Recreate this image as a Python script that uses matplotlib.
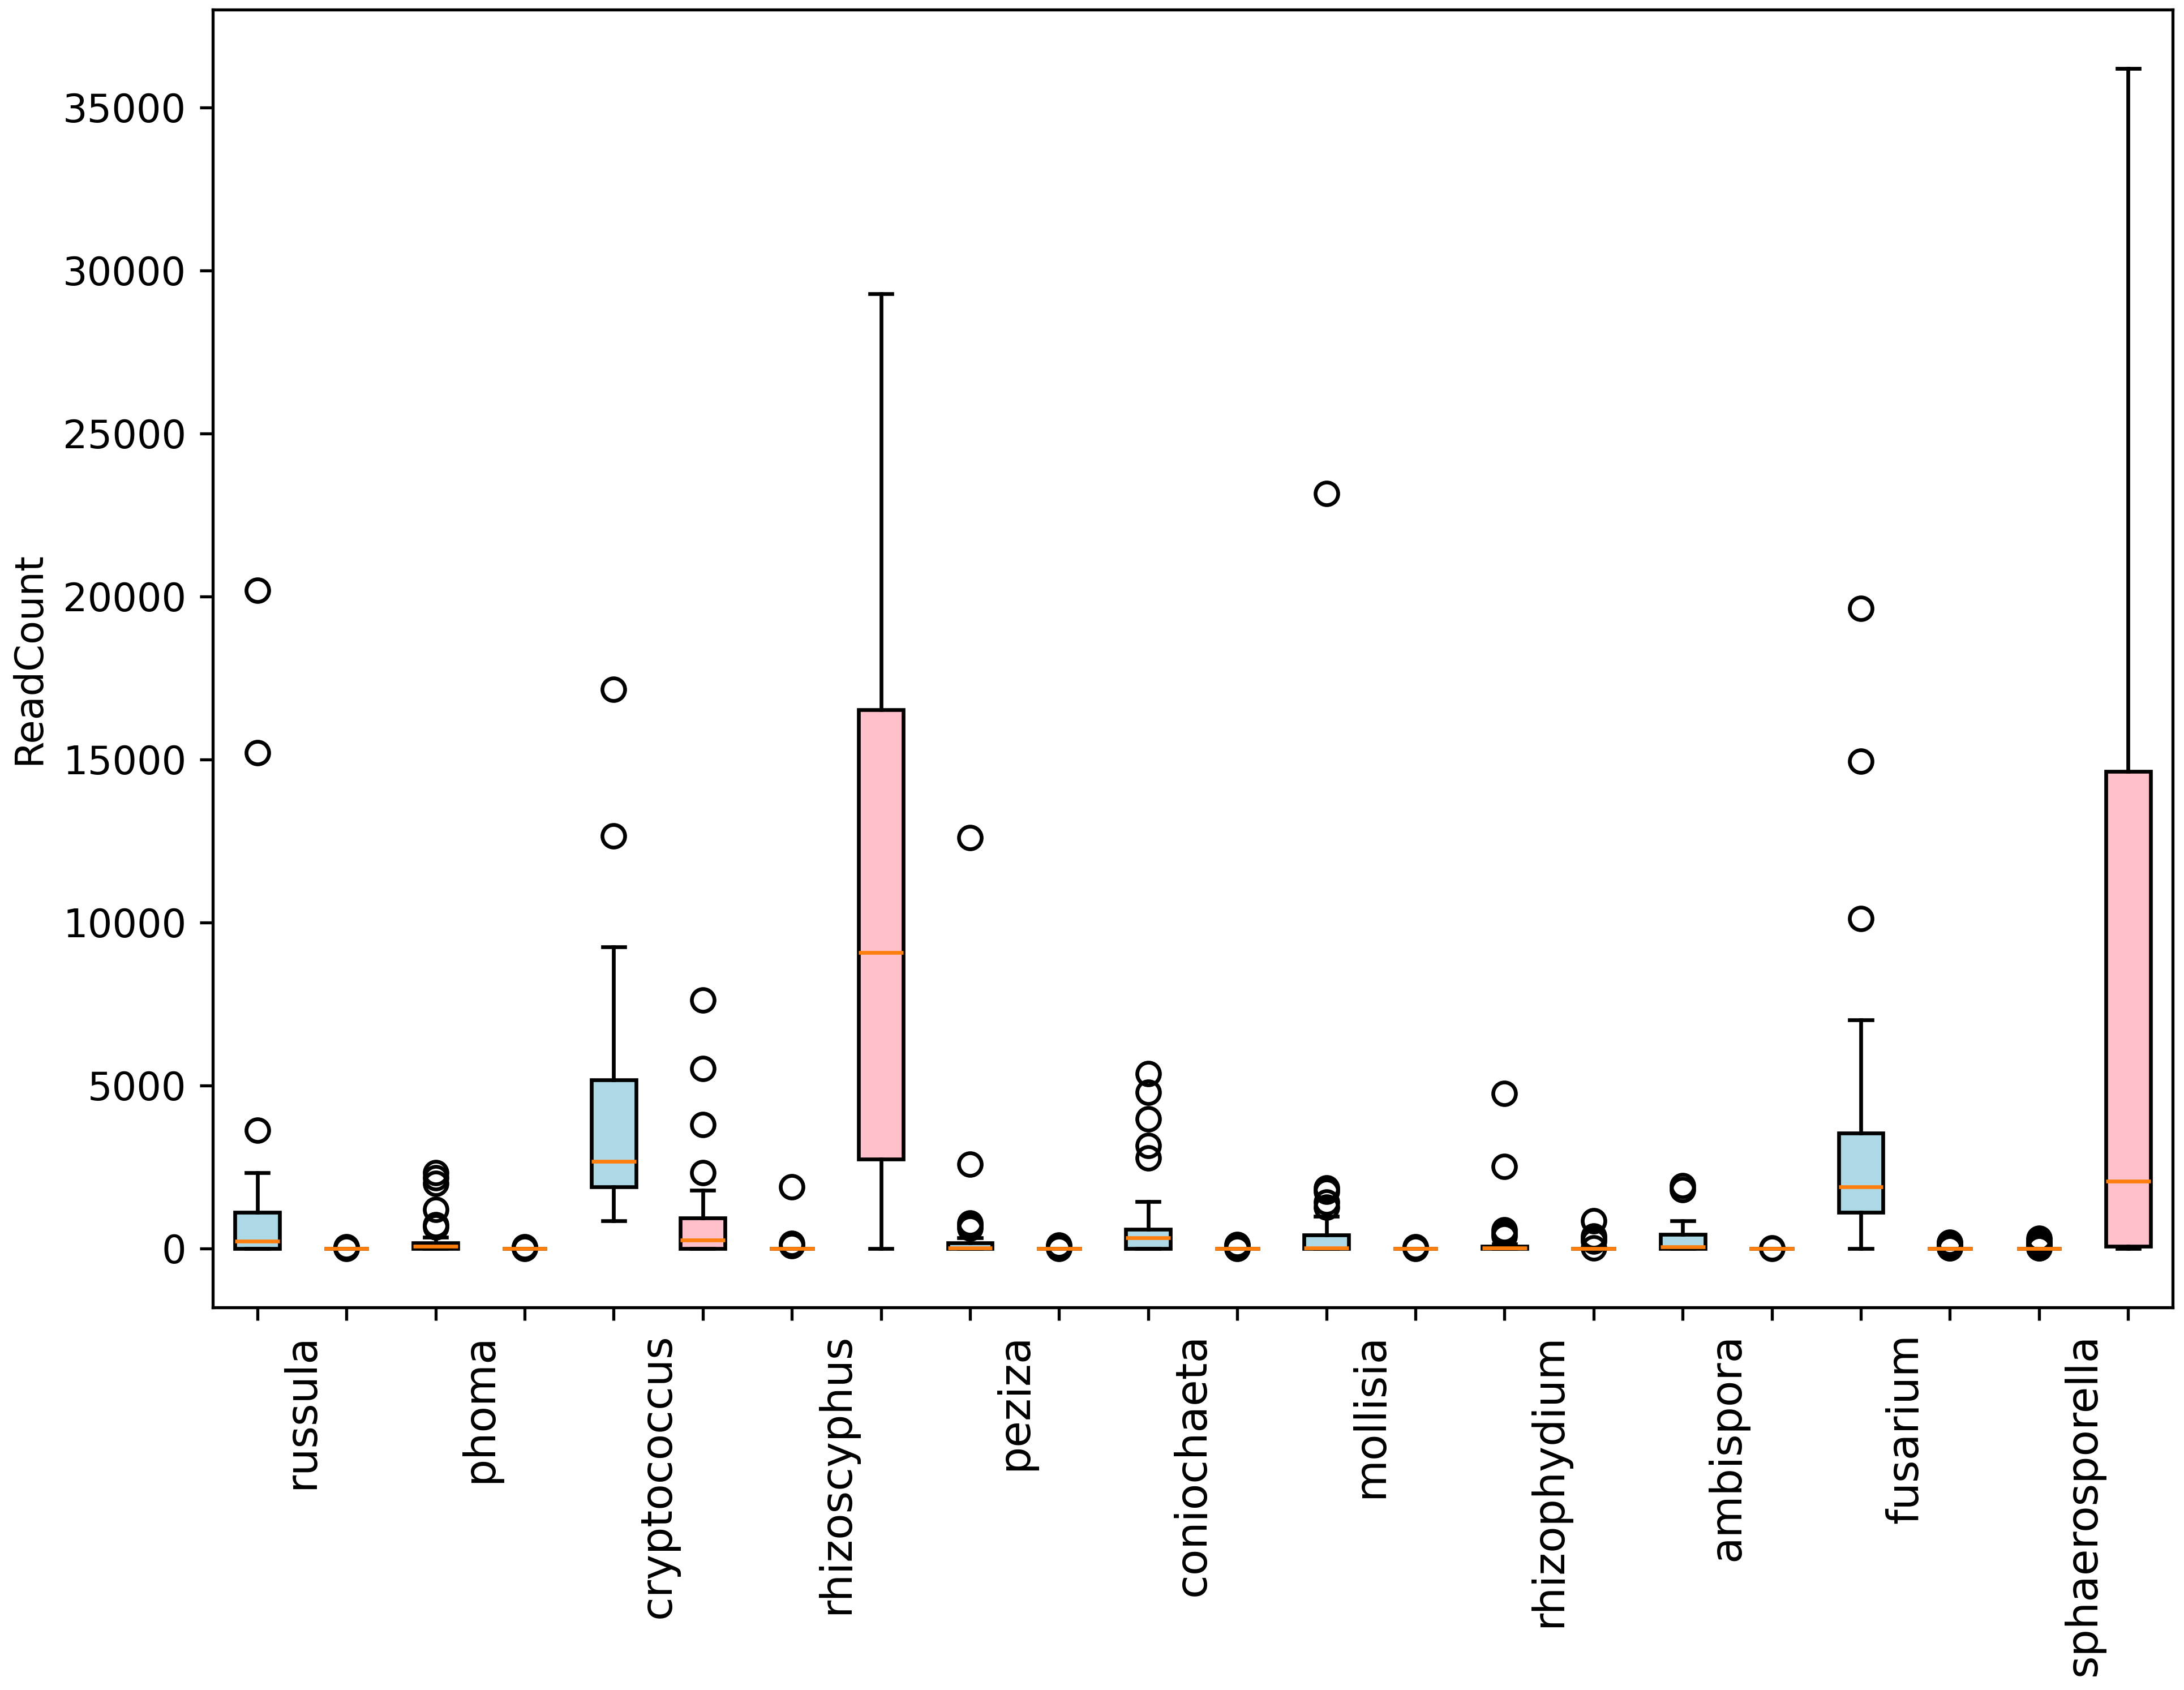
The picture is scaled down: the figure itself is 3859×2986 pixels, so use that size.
import matplotlib
matplotlib.use('Agg')
import matplotlib.pyplot as plt

genera = ['russula', 'phoma', 'cryptococcus', 'rhizoscyphus', 'peziza',
          'coniochaeta', 'mollisia', 'rhizophydium', 'ambispora',
          'fusarium', 'sphaerosporella']

# Group A (light blue boxes)
a_whislo = [0, 0, 850, 0, 0, 0, 0, 0, 0, 0, 0]
a_q1 = [0, 0, 1886, 0, 0, 0, 0, 0, 0, 1107, 0]
a_med = [229, 73, 2665, 0, 20, 328, 10, 10, 54, 1886, 0]
a_q3 = [1101, 168, 5173, 0, 170, 585, 420, 60, 429, 3538, 0]
a_whishi = [2318, 350, 9248, 0, 330, 1441, 980, 140, 850, 7005, 0]
a_fliers = [
    [3630, 15200, 20180],
    [650, 720, 1190, 2000, 2160, 2330],
    [12650, 17150],
    [90, 160, 1890],
    [620, 700, 780, 2590, 12600],
    [2780, 3150, 3970, 4790, 5360],
    [1260, 1420, 1750, 1850, 23150],
    [380, 470, 560, 2510, 4760],
    [1800, 1920],
    [10115, 14938, 19633],
    [5, 20, 45, 80, 120, 170, 230, 300],
]

# Group B (pink boxes)
b_whislo = [0, 0, 0, 0, 0, 0, 0, 0, 0, 0, 0]
b_q1 = [0, 0, 0, 2743, 0, 0, 0, 0, 0, 0, 60]
b_med = [0, 0, 250, 9069, 0, 0, 0, 0, 0, 0, 2057]
b_q3 = [0, 0, 927, 16517, 0, 0, 0, 0, 0, 0, 14640]
b_whishi = [0, 0, 1792, 29278, 0, 0, 0, 0, 0, 0, 36190]
b_fliers = [
    [2, 6, 15, 30, 45],
    [2, 5, 12, 25, 40],
    [2330, 3794, 5524, 7612],
    [],
    [2, 10, 30, 60, 100],
    [3, 15, 40, 80, 110],
    [3, 12, 30, 55],
    [20, 220, 300, 380, 840],
    [3, 8],
    [5, 15, 30, 60, 90, 130, 170, 190],
    [],
]

colors = ['lightblue', 'pink']

stats = []
pos = []
facecols = []
for i in range(len(genera)):
    stats.append(dict(med=a_med[i], q1=a_q1[i], q3=a_q3[i],
                      whislo=a_whislo[i], whishi=a_whishi[i],
                      fliers=a_fliers[i], label=''))
    pos.append(2 * i + 1)
    facecols.append(colors[0])
    stats.append(dict(med=b_med[i], q1=b_q1[i], q3=b_q3[i],
                      whislo=b_whislo[i], whishi=b_whishi[i],
                      fliers=b_fliers[i], label=''))
    pos.append(2 * i + 2)
    facecols.append(colors[1])

DPI = 480
fig = plt.figure(figsize=(3860 / DPI, 2986 / DPI), dpi=DPI)
ax = fig.add_axes([376 / 3860, 1 - 2310 / 2986, (3839 - 376) / 3860, (2310 - 17) / 2986])

res = ax.bxp(stats, positions=pos, widths=0.5, patch_artist=True)
for patch, c in zip(res['boxes'], facecols):
    patch.set_facecolor(c)

ax.set_xlim(0.5, 2 * len(genera) + 0.5)
ax.set_ylim(-1810, 38000)

ax.set_xticks(pos)
ax.set_xticklabels([''] * len(pos))
ax.set_xticks([2 * i + 1.5 for i in range(len(genera))], minor=True)
ax.set_xticklabels(genera, minor=True, rotation=90, fontsize=11.4)
ax.tick_params(axis='x', which='minor', length=3.5, width=0)
ax.tick_params(axis='y', labelsize=10.3)

ax.set_ylabel('ReadCount', fontsize=10.3)

fig.savefig('out.png', dpi=DPI)
